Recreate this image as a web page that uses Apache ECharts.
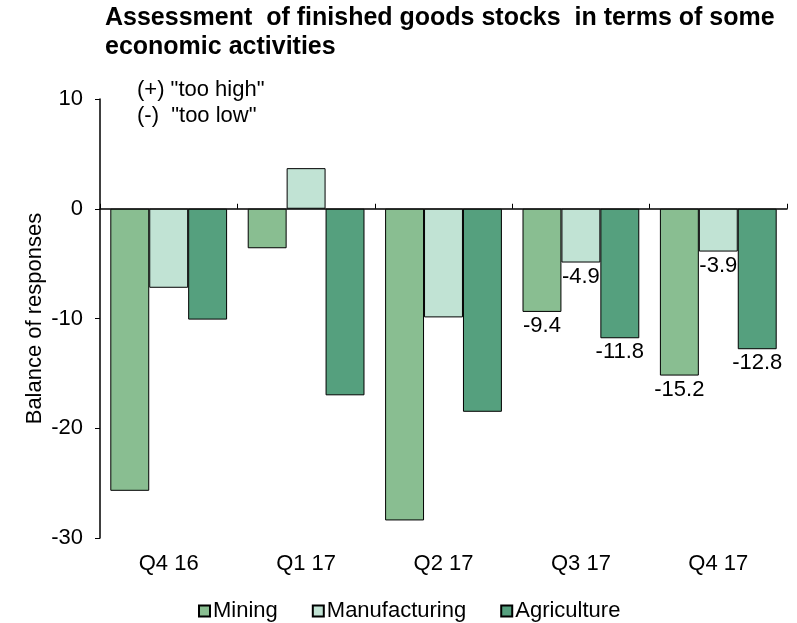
<!DOCTYPE html>
<html>
<head>
<meta charset="utf-8">
<script src="https://cdn.jsdelivr.net/npm/echarts@6/dist/echarts.min.js"></script>
<style>
  html, body { margin: 0; padding: 0; background: #fff; }
  #chart { width: 797px; height: 623px; }
</style>
</head>
<body>
<div id="chart"></div>
<script>
const quarters = ["Q4 16", "Q1 17", "Q2 17", "Q3 17", "Q4 17"];
const mining = [-25.7, -3.6, -28.4, -9.4, -15.2];
const manufacturing = [-7.2, 3.7, -9.9, -4.9, -3.9];
const agriculture = [-10.1, -17.0, -18.5, -11.8, -12.8];
const labelledQuarters = ["Q3 17", "Q4 17"];
const yTicks = { min: -30, max: 10, interval: 10 };

const font = "Liberation Sans, Arial, sans-serif";
const chart = echarts.init(document.getElementById("chart"));

function withLabels(values) {
  return values.map((v, i) => {
    if (labelledQuarters.indexOf(quarters[i]) < 0) return v;
    return {
      value: v,
      label: {
        show: true,
        position: "outside",
        distance: 3,
        color: "#000",
        fontFamily: font,
        fontSize: 22,
        formatter: (p) => p.value.toFixed(1),
      },
    };
  });
}

function barSeries(name, values, color) {
  return {
    name: name,
    type: "bar",
    xAxisIndex: 0,
    barGap: "0%",
    barCategoryGap: "15%",
    itemStyle: { color: color, borderColor: "#000", borderWidth: 1 },
    data: withLabels(values),
  };
}

const option = {
  animation: false,
  textStyle: { fontFamily: font },
  title: {
    text: "Assessment  of finished goods stocks  in terms of some\neconomic activities",
    left: 100,
    top: -1,
    textStyle: { fontFamily: font, fontSize: 25, fontWeight: "bold", color: "#000", lineHeight: 29 },
  },
  graphic: [
    {
      type: "text",
      left: 137,
      top: 77,
      style: { text: '(+) "too high"\n(-)  "too low"', fontFamily: font, fontSize: 22, fill: "#000", lineHeight: 26 },
    },
  ],
  legend: {
    top: 595,
    left: 193,
    icon: "rect",
    itemWidth: 11,
    itemHeight: 11,
    itemGap: 34,
    textStyle: { fontFamily: font, fontSize: 22, color: "#000", padding: [0, 0, 0, -2] },
    data: ["Mining", "Manufacturing", "Agriculture"],
  },
  grid: { left: 100, right: 10, top: 99, bottom: 85 },
  xAxis: [
    {
      type: "category",
      data: quarters,
      axisLine: { onZero: true, lineStyle: { color: "#000", width: 1.5 } },
      axisTick: { show: true, inside: true, length: 5, lineStyle: { color: "#000" } },
      axisLabel: { show: false },
    },
    {
      type: "category",
      data: quarters,
      position: "bottom",
      axisLine: { show: false, onZero: false },
      axisTick: { show: false },
      axisLabel: { show: true, color: "#000", fontFamily: font, fontSize: 22, margin: 15 },
    },
  ],
  yAxis: {
    type: "value",
    min: yTicks.min,
    max: yTicks.max,
    interval: yTicks.interval,
    name: "Balance of responses",
    nameLocation: "middle",
    nameGap: 54,
    nameMoveOverlap: false,
    nameRotate: 90,
    nameTextStyle: { fontFamily: font, fontSize: 22, color: "#000" },
    axisLine: { show: true, lineStyle: { color: "#000", width: 1.5 } },
    axisTick: { show: true, length: 5, lineStyle: { color: "#000" } },
    axisLabel: { color: "#000", fontFamily: font, fontSize: 22, margin: 17 },
    splitLine: { show: false },
  },
  series: [
    barSeries("Mining", mining, "#89be91"),
    barSeries("Manufacturing", manufacturing, "#c1e3d4"),
    barSeries("Agriculture", agriculture, "#55a07e"),
  ],
};

chart.setOption(option);
</script>
</body>
</html>
